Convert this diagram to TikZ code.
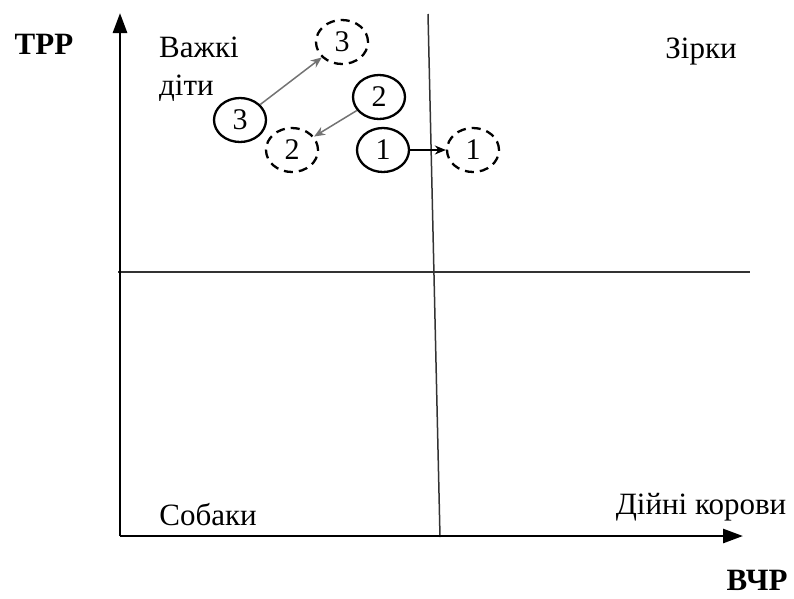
\documentclass[tikz,border=0pt]{standalone}
\usepackage{fontspec}
\setmainfont{Liberation Serif}
\usetikzlibrary{shapes.geometric,arrows.meta}
\begin{document}
\begin{tikzpicture}[x=1pt,y=-1pt,
  lbl/.style={font=\fontsize{31}{38}\selectfont, inner sep=0pt},
  axlbl/.style={font=\fontsize{31}{36}\selectfont\bfseries, inner sep=0pt},
  oval/.style={draw, line width=2.3pt, ellipse, minimum width=52pt, minimum height=44pt, inner sep=0pt, font=\fontsize{30}{32}\selectfont},
  dashoval/.style={oval, dash pattern=on 9pt off 6pt},
  axis/.style={line width=2.8pt, -{Triangle[length=20pt,width=14pt]}},
  divider/.style={line width=1.5pt, black!80},
  move/.style={line width=1.5pt, black!55, -{Stealth[length=11pt,width=9pt]}}
]
\useasboundingbox (0,0) rectangle (794,598);
% dividers
\coordinate (vt) at (428,14);
\coordinate (vb) at (440,537);
\coordinate (hl) at (118,272);
\coordinate (hr) at (750,272);
\draw[divider] (vt) -- (vb);
\draw[divider] (hl) -- (hr);
% axes
\coordinate (o) at (120,536);
\coordinate (ytop) at (120,13);
\coordinate (xend) at (743,536);
\draw[axis] (o) -- (ytop);
\draw[axis] (o) -- (xend);
% axis labels
\node[axlbl] (trp) at (44,44) {ТРР};
\node[axlbl] (vchr) at (757,580) {ВЧР};
% quadrant labels
\node[lbl, anchor=west, align=left] (vd) at (159,69) {Важкі\\діти};
\node[lbl] (zirky) at (701,52) {Зірки};
\node[lbl] (sobaky) at (208,515) {Собаки};
\node[lbl] (dk) at (701,507) {Дійні корови};
% ovals
\node[oval] (s3) at (240,120) {3};
\node[dashoval] (d3) at (342,42) {3};
\node[oval] (s2) at (379,97) {2};
\node[dashoval] (d2) at (292,150) {2};
\node[oval] (s1) at (383,150) {1};
\node[dashoval] (d1) at (473,150) {1};
% moves
\draw[move] (s3) -- (d3);
\draw[move] (s2) -- (d2);
\draw[move, black] (s1) -- (d1);
\end{tikzpicture}
\end{document}
